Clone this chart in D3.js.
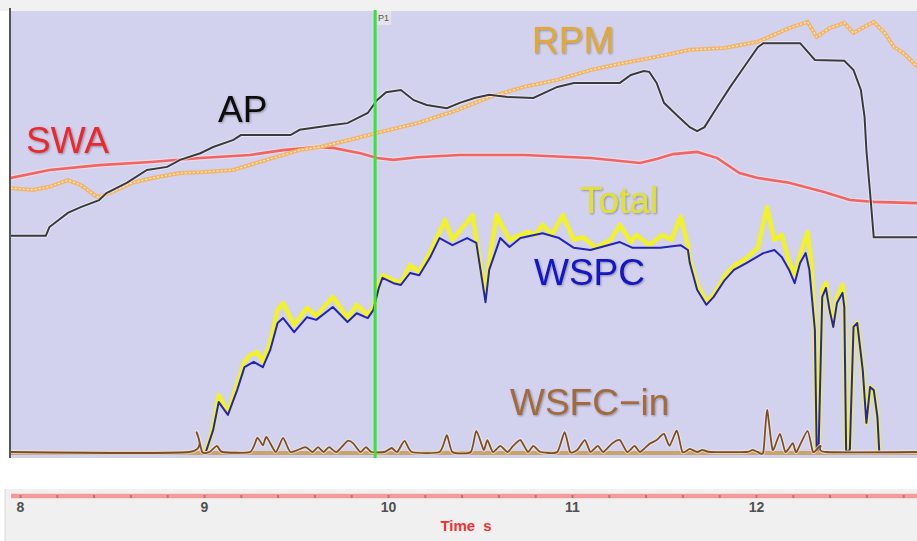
<!DOCTYPE html>
<html>
<head>
<meta charset="utf-8">
<script src="https://cdn.jsdelivr.net/npm/d3@7"></script>
<style>
body { margin: 0; background: #ffffff; }
svg text { font-family: "Liberation Sans", Arial, sans-serif; }
</style>
</head>
<body>
<script>
// time in s, values in % of channel full scale
var apTime = [7.95, 8.14, 8.16, 8.26, 8.33, 8.43, 8.47, 8.58, 8.69, 8.80, 8.87, 8.98, 9.05, 9.16, 9.20, 9.47, 9.52, 9.70, 9.78, 9.89, 9.94, 9.99, 10.07, 10.14, 10.21, 10.32, 10.39, 10.47, 10.55, 10.65, 10.79, 10.92, 11.01, 11.26, 11.32, 11.39, 11.42, 11.46, 11.50, 11.57, 11.64, 11.68, 11.72, 11.79, 11.86, 11.95, 12.01, 12.04, 12.24, 12.32, 12.48, 12.53, 12.57, 12.59, 12.60, 12.62, 12.64, 12.88];
var apValues = [48.9, 48.9, 50.9, 54.1, 55.4, 57.0, 58.6, 60.9, 63.8, 64.5, 66.1, 67.6, 69.0, 70.6, 71.7, 71.7, 72.9, 74.0, 74.4, 76.7, 79.6, 81.4, 81.9, 79.6, 78.5, 77.8, 79.0, 80.1, 80.8, 80.3, 80.1, 82.6, 83.5, 83.5, 85.3, 86.2, 86.0, 83.5, 79.0, 76.2, 73.5, 72.6, 73.5, 78.1, 82.6, 88.0, 91.6, 92.5, 92.5, 88.7, 88.5, 86.4, 81.9, 75.8, 68.3, 58.6, 48.6, 48.6];

var rpmTime = [7.95, 8.07, 8.16, 8.26, 8.33, 8.42, 8.49, 8.61, 8.72, 8.87, 8.98, 9.16, 9.34, 9.52, 9.63, 9.79, 9.94, 10.16, 10.38, 10.55, 10.74, 10.92, 11.10, 11.28, 11.46, 11.64, 11.83, 12.01, 12.18, 12.28, 12.33, 12.40, 12.48, 12.53, 12.59, 12.64, 12.70, 12.75, 12.80, 12.88];
var rpmValues = [59.7, 59.3, 60.0, 61.5, 60.4, 57.7, 58.6, 60.9, 62.0, 63.1, 63.3, 63.8, 66.1, 68.3, 69.0, 70.6, 72.2, 74.4, 77.4, 80.3, 82.6, 84.2, 86.4, 88.0, 89.4, 91.0, 91.4, 92.8, 95.9, 97.3, 93.9, 95.9, 97.1, 94.8, 96.2, 97.3, 94.8, 91.6, 90.3, 87.1];

var swaTime = [7.95, 8.16, 8.43, 8.71, 8.98, 9.25, 9.43, 9.61, 9.70, 9.85, 9.94, 10.03, 10.16, 10.39, 10.74, 11.10, 11.37, 11.46, 11.55, 11.68, 11.79, 11.91, 12.01, 12.18, 12.37, 12.51, 12.64, 12.88];
var swaValues = [62.0, 63.8, 64.9, 65.6, 66.5, 67.2, 68.3, 69.0, 68.8, 67.6, 66.5, 66.1, 66.7, 67.2, 67.2, 66.5, 65.4, 66.3, 67.4, 67.9, 66.5, 63.1, 62.0, 60.9, 58.8, 57.0, 56.6, 56.3];

var wspcTime = [9.01, 9.05, 9.08, 9.13, 9.18, 9.22, 9.27, 9.32, 9.36, 9.40, 9.43, 9.49, 9.56, 9.61, 9.70, 9.78, 9.83, 9.89, 9.92, 9.95, 9.97, 10.03, 10.07, 10.12, 10.17, 10.23, 10.28, 10.35, 10.43, 10.48, 10.53, 10.55, 10.61, 10.66, 10.72, 10.84, 10.93, 11.01, 11.10, 11.26, 11.33, 11.48, 11.59, 11.63, 11.64, 11.68, 11.73, 11.77, 11.83, 11.88, 11.95, 12.04, 12.10, 12.14, 12.18, 12.21, 12.24, 12.27, 12.29, 12.32, 12.33, 12.34, 12.36, 12.38, 12.40, 12.42, 12.44, 12.47, 12.48, 12.49, 12.51, 12.53, 12.55, 12.58, 12.60, 12.62, 12.64, 12.66, 12.67];
var wspcValues = [0, 5.0, 11.3, 8.4, 14.0, 19.2, 20.4, 19.2, 23.1, 29.2, 30.3, 27.1, 30.5, 29.9, 32.8, 29.4, 31.4, 30.3, 32.1, 37.1, 39.4, 38.2, 37.8, 40.5, 40.0, 44.1, 48.4, 46.8, 48.4, 47.3, 33.9, 41.2, 48.4, 46.4, 48.4, 49.5, 48.4, 46.2, 45.7, 47.5, 46.2, 46.2, 46.8, 45.7, 42.8, 36.7, 33.3, 35.1, 38.9, 41.2, 42.8, 45.0, 45.7, 44.1, 41.2, 38.2, 42.8, 45.0, 41.2, 27.6, 0, 0.5, 35.1, 37.1, 32.1, 28.3, 33.7, 36.0, 32.8, 0, 0.5, 28.3, 29.2, 18.6, 6.6, 14.7, 14.0, 7.9, 0];

var totalTime = [9.01, 9.05, 9.08, 9.13, 9.18, 9.22, 9.25, 9.29, 9.32, 9.36, 9.40, 9.43, 9.49, 9.56, 9.61, 9.70, 9.78, 9.83, 9.89, 9.92, 9.95, 9.97, 10.03, 10.07, 10.12, 10.17, 10.23, 10.31, 10.35, 10.46, 10.48, 10.53, 10.55, 10.59, 10.66, 10.76, 10.80, 10.84, 10.89, 10.95, 11.01, 11.06, 11.13, 11.21, 11.26, 11.32, 11.35, 11.42, 11.49, 11.54, 11.59, 11.63, 11.64, 11.68, 11.73, 11.77, 11.83, 11.88, 11.95, 12.01, 12.06, 12.10, 12.14, 12.18, 12.21, 12.24, 12.28, 12.30, 12.32, 12.33, 12.34, 12.36, 12.38, 12.40, 12.42, 12.44, 12.47, 12.48, 12.49, 12.51, 12.53, 12.55, 12.58, 12.60, 12.62, 12.64, 12.66, 12.67];
var totalValues = [0, 5.4, 12.9, 8.8, 15.2, 20.4, 21.9, 22.6, 20.4, 24.7, 32.1, 33.7, 28.7, 32.6, 30.8, 35.1, 30.3, 33.3, 31.0, 32.6, 37.8, 40.0, 38.9, 38.2, 42.3, 40.7, 45.2, 52.5, 48.0, 53.6, 48.0, 35.5, 43.0, 53.6, 48.0, 49.8, 49.1, 51.4, 49.1, 53.6, 48.0, 48.6, 46.2, 48.0, 51.4, 47.5, 49.1, 46.8, 49.1, 48.0, 53.2, 46.8, 43.4, 37.8, 33.9, 35.5, 39.8, 42.1, 43.9, 46.2, 55.4, 48.0, 49.1, 43.0, 40.0, 44.6, 49.8, 43.0, 27.6, 0, 0.5, 36.7, 38.2, 32.6, 28.7, 34.8, 37.8, 33.3, 0, 0.5, 28.3, 29.2, 18.6, 6.6, 14.7, 14.0, 7.9, 0];

var wsfcTime = [7.95, 8.92, 8.96, 8.99, 9.03, 9.07, 9.10, 9.25, 9.29, 9.32, 9.34, 9.39, 9.43, 9.47, 9.55, 9.59, 9.62, 9.65, 9.68, 9.72, 9.78, 9.81, 9.85, 9.88, 9.91, 9.98, 10.02, 10.05, 10.09, 10.13, 10.28, 10.32, 10.35, 10.45, 10.48, 10.52, 10.54, 10.57, 10.61, 10.65, 10.68, 10.72, 10.76, 10.79, 10.83, 10.92, 10.96, 10.99, 11.03, 11.07, 11.10, 11.14, 11.17, 11.22, 11.26, 11.30, 11.34, 11.37, 11.42, 11.46, 11.50, 11.53, 11.57, 11.60, 11.64, 11.68, 11.71, 11.75, 11.95, 11.98, 12.01, 12.04, 12.06, 12.09, 12.13, 12.16, 12.20, 12.22, 12.28, 12.31, 12.35, 12.38, 12.88];
var wsfcValues = [0, 0, 4.5, 0, 0, 1.4, 0, 0, 3.2, 1.5, 3.4, 0, 3.2, 0, 1.1, 0, 1.1, 0, 1.1, 0, 2.5, 2.0, 0, 1.1, 0, 0, 0.9, 0, 2.5, 0, 0, 3.8, 0, 0, 4.8, 0.5, 2.7, 0, 1.4, 0, 1.4, 2.7, 0, 1.4, 0, 0, 4.5, 0, 0.5, 2.7, 0, 1.4, 0, 2.0, 2.7, 0, 1.4, 0, 1.8, 2.7, 4.1, 1.4, 4.8, 0, 0.7, 0, 0.5, 0, 0, 0.5, 0, 0, 9.5, 0.5, 4.1, 0, 2.0, 0, 4.8, 0, 1.4, 0, 0];

var timeTicks = [8, 9, 10, 11, 12];
var cursorTime = 9.93;

var svg = d3.select("body").append("svg")
.attr("width", 917)
.attr("height", 541);

var x = d3.scaleLinear().domain([8, 13]).range([20, 940]);
var y = d3.scaleLinear().domain([0, 100]).range([452, 10]);

function pts(t, v) {
  return t.map(function (d, i) { return [d, v[i]]; });
}

var line = d3.line()
.x(function (d) { return x(d[0]); })
.y(function (d) { return y(d[1]); });

var smooth = d3.line()
.curve(d3.curveCardinal.tension(0.4))
.x(function (d) { return x(d[0]); })
.y(function (d) { return y(d[1]); });

var defs = svg.append("defs");
defs.append("clipPath").attr("id", "plotClip")
.append("rect")
.attr("x", 11).attr("y", 11).attr("width", 906).attr("height", 447);

var shadow = defs.append("filter").attr("id", "soft")
.attr("x", "-10%").attr("y", "-20%").attr("width", "130%").attr("height", "150%");
shadow.append("feDropShadow")
.attr("dx", 1).attr("dy", 1).attr("stdDeviation", 1.2)
.attr("flood-color", "#000").attr("flood-opacity", 0.35);

// top strip
svg.append("rect")
.attr("x", 0).attr("y", 0).attr("width", 917).attr("height", 11)
.attr("fill", "#f1f1f1");

// plot background
svg.append("rect")
.attr("x", 11).attr("y", 11).attr("width", 906).attr("height", 447)
.attr("fill", "#d2d2ef");

svg.append("line")
.attr("x1", 10).attr("x2", 10).attr("y1", 8).attr("y2", 458)
.attr("stroke", "#555").attr("stroke-width", 2);

var plot = svg.append("g").attr("clip-path", "url(#plotClip)");

// SWA
plot.append("path")
.attr("d", line(pts(swaTime, swaValues)))
.attr("fill", "none").attr("stroke", "#fbe0e0").attr("stroke-width", 5).attr("opacity", 0.6);
plot.append("path")
.attr("d", line(pts(swaTime, swaValues)))
.attr("fill", "none").attr("stroke", "#ef6464").attr("stroke-width", 2.6);

// RPM
plot.append("path")
.attr("d", line(pts(rpmTime, rpmValues)))
.attr("fill", "none").attr("stroke", "#f2b66a").attr("stroke-width", 4);
plot.append("path")
.attr("d", line(pts(rpmTime, rpmValues)))
.attr("fill", "none").attr("stroke", "#fde6c4").attr("stroke-width", 1.2)
.attr("stroke-dasharray", "2,2");

// AP
plot.append("path")
.attr("d", line(pts(apTime, apValues)))
.attr("fill", "none").attr("stroke", "#f4f4ff").attr("stroke-width", 4).attr("opacity", 0.6);
plot.append("path")
.attr("d", line(pts(apTime, apValues)))
.attr("fill", "none").attr("stroke", "#3a3a3a").attr("stroke-width", 2);

// Total
plot.append("path")
.attr("d", line(pts(totalTime, totalValues)))
.attr("fill", "none").attr("stroke", "#f2f22a").attr("stroke-width", 4.5)
.attr("stroke-linejoin", "round");

// WSPC
plot.append("path")
.attr("d", line(pts(wspcTime, wspcValues)))
.attr("fill", "none").attr("stroke", "#2424b4").attr("stroke-width", 2)
.attr("stroke-linejoin", "round");

// zero line of the lower channels
plot.append("line")
.attr("x1", x(7.9)).attr("x2", x(13))
.attr("y1", y(0) + 1).attr("y2", y(0) + 1)
.attr("stroke", "#c9a46a").attr("stroke-width", 4);

// WSFC-in
plot.append("path")
.attr("d", smooth(pts(wsfcTime, wsfcValues)))
.attr("fill", "none").attr("stroke", "#f6efe4").attr("stroke-width", 4).attr("opacity", 0.6);
plot.append("path")
.attr("d", smooth(pts(wsfcTime, wsfcValues)))
.attr("fill", "none").attr("stroke", "#7d4e24").attr("stroke-width", 1.8);

// channel names
var labels = [
  { name: "SWA", x: 26, y: 153, color: "#e82a2e" },
  { name: "AP", x: 218, y: 122, color: "#111111" },
  { name: "RPM", x: 532, y: 53, color: "#e4a730" },
  { name: "Total", x: 580, y: 213, color: "#e2e22c" },
  { name: "WSPC", x: 534, y: 285, color: "#1212c2" },
  { name: "WSFC\u2212in", x: 510, y: 415, color: "#a26a3e" }
];
plot.selectAll("text.chan")
.data(labels)
.enter().append("text")
.attr("class", "chan")
.attr("x", function (d) { return d.x; })
.attr("y", function (d) { return d.y; })
.attr("fill", function (d) { return d.color; })
.attr("font-size", 37)
.attr("filter", "url(#soft)")
.text(function (d) { return d.name; });

// cursor
svg.append("line")
.attr("x1", x(cursorTime)).attr("x2", x(cursorTime))
.attr("y1", 10).attr("y2", 458)
.attr("stroke", "#36e636").attr("stroke-width", 3);
svg.append("rect")
.attr("x", x(cursorTime) + 2).attr("y", 11).attr("width", 14).attr("height", 14)
.attr("fill", "#e4e4ea");
svg.append("text")
.attr("x", x(cursorTime) + 3).attr("y", 21)
.attr("font-size", 9).attr("fill", "#555")
.text("P1");

// time axis panel
svg.append("rect")
.attr("x", 5).attr("y", 489).attr("width", 912).attr("height", 52)
.attr("fill", "#f0f0f0");
svg.append("line")
.attr("x1", 5).attr("x2", 5).attr("y1", 489).attr("y2", 541)
.attr("stroke", "#d8d8d8").attr("stroke-width", 1);

var axis = svg.append("g")
.attr("transform", "translate(0,496)")
.call(d3.axisBottom(x)
  .tickValues(d3.range(8, 13.01, 0.2))
  .tickSize(0)
  .tickPadding(6)
  .tickFormat(function (d) {
    var r = Math.round(d * 10) / 10;
    return timeTicks.indexOf(r) >= 0 ? r : "";
  }));
axis.select(".domain").remove();
axis.insert("line", ":first-child")
.attr("x1", 11).attr("x2", 917)
.attr("y1", 0).attr("y2", 0)
.attr("stroke", "#f59a9a").attr("stroke-width", 4.5);
axis.selectAll(".tick").append("rect")
.attr("x", -1).attr("y", -1).attr("width", 2).attr("height", 3)
.attr("fill", "#b07878");
axis.selectAll(".tick text")
.attr("font-size", 14)
.attr("font-weight", "bold")
.attr("fill", "#505050")
.attr("font-family", "Liberation Sans, Arial, sans-serif");

svg.append("text")
.attr("x", 466).attr("y", 531)
.attr("text-anchor", "middle")
.attr("font-size", 15)
.attr("font-weight", "bold")
.attr("word-spacing", 4)
.attr("fill", "#f03030")
.text("Time s");
</script>
</body>
</html>
